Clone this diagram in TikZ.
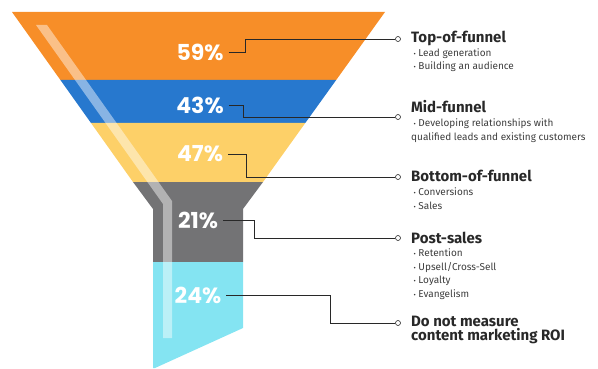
\documentclass[tikz,border=0pt]{standalone}
\usepackage{fontspec}
\setmainfont{Fira Sans}
\newfontfamily\pctfont{Poppins}
\usepackage{tikz}
\usetikzlibrary{arrows, shapes, positioning, calc}

\definecolor{funOrange}{RGB}{247,142,40}
\definecolor{funBlue}{RGB}{39,120,206}
\definecolor{funYellow}{RGB}{253,208,104}
\definecolor{funGrey}{RGB}{115,115,117}
\definecolor{funCyan}{RGB}{132,228,242}
\definecolor{inkDark}{RGB}{40,40,40}

\newcommand{\stagebullet}{\hspace*{2.5pt}{\fontsize{7}{7}\selectfont\textbullet}\hspace{2.5pt}}

\begin{document}
\begin{tikzpicture}
            [x=1pt, y=-1pt,
            pct/.style={font=\pctfont\bfseries\fontsize{22}{22}\selectfont, text=white, inner sep=5pt},
            leader/.style={draw=inkDark, line width=0.8pt},
            dot/.style={circle, draw=inkDark, fill=white, line width=0.6pt, inner sep=0pt, minimum size=5pt},
            stagetitle/.style={font=\bfseries\fontsize{15}{14}\selectfont, text=inkDark, align=left, anchor=base west, inner sep=0pt},
            bullets/.style={font=\fontsize{10}{13.5}\selectfont, text=inkDark!90, align=left, anchor=base west, inner sep=0pt}]
            \useasboundingbox (0,0) rectangle (598,369);

            % funnel bands
            \fill[funOrange] (12,12) -- (385,12) -- (336.2,80) -- (60.4,80) -- cycle;
            \fill[funBlue]   (60.4,80) -- (336.2,80) -- (305.3,123) -- (91,123) -- cycle;
            \fill[funYellow] (91,123) -- (305.3,123) -- (263,182) -- (133,182) -- cycle;
            \fill[funGrey]   (133,182) -- (263,182) -- (243,209) -- (243,262) -- (153,262) -- (153,209) -- cycle;
            \fill[funCyan]   (153,262) -- (243,262) -- (243,328) -- (155,368) -- (153,368) -- cycle;
            % glass highlight
            \fill[white, opacity=0.45] (36,25) -- (47,25) -- (172,201) -- (172,338) -- (163,338) -- (163,204) -- cycle;

            \node[pct] (pcTop)  at (200,52)  {59\%};
            \node[pct] (pcMid)  at (200,105) {43\%};
            \node[pct] (pcBot)  at (200,154) {47\%};
            \node[pct] (pcPost) at (198,220) {21\%};
            \node[pct] (pcNone) at (198,295) {24\%};

            \node[dot] (dotTop)  at (398,39)  {};
            \node[dot] (dotMid)  at (398,117) {};
            \node[dot] (dotBot)  at (398,177) {};
            \node[dot] (dotPost) at (398,238) {};
            \node[dot] (dotNone) at (398,323) {};

            \draw[leader] (pcTop.east)  -- ++(17,0)  |- (dotTop.west);
            \draw[leader] (pcMid.east)  -- ++(15,0)  |- (dotMid.west);
            \draw[leader] (pcBot.east)  -- ++(18,0)  |- (dotBot.west);
            \draw[leader] (pcPost.east) -- ++(31,0)  |- (dotPost.west);
            \draw[leader] (pcNone.east) -- ++(104,0) |- (dotNone.west);

            % base anchor of a multi-line node sits on its last line
            \node[stagetitle] (tTop)  at (411,43)  {Top-of-funnel};
            \node[stagetitle] (tMid)  at (411,113) {Mid-funnel};
            \node[stagetitle] (tBot)  at (411,182) {Bottom-of-funnel};
            \node[stagetitle] (tPost) at (411,243) {Post-sales};
            \node[stagetitle] (tNone) at (411,340) {Do not measure\\content marketing ROI};

            \node[bullets] (bTop) at ($(tTop.base west)+(0pt,-27pt)$)
                {\stagebullet Lead generation\\ \stagebullet Building an audience};
            \node[bullets] (bMid) at ($(tMid.base west)+(0pt,-27pt)$)
                {\stagebullet Developing relationships with\\ qualified leads and existing customers};
            \node[bullets] (bBot) at ($(tBot.base west)+(0pt,-27pt)$)
                {\stagebullet Conversions\\ \stagebullet Sales};
            \node[bullets] (bPost) at ($(tPost.base west)+(0pt,-54pt)$)
                {\stagebullet Retention\\ \stagebullet Upsell/Cross-Sell\\ \stagebullet Loyalty\\ \stagebullet Evangelism};
        \end{tikzpicture}
\end{document}
